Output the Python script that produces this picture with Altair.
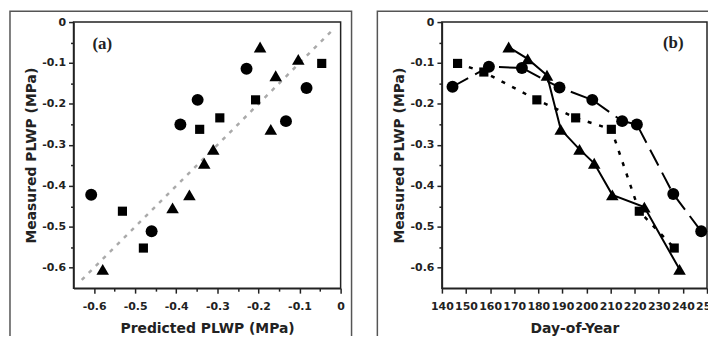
import altair as alt
import pandas as pd

# ---------------- Panel (a): predicted vs measured PLWP (MPa) ----------------
a_circle_pred = [-0.607, -0.46, -0.39, -0.348, -0.229, -0.083, -0.133]
a_circle_meas = [-0.422, -0.511, -0.25, -0.19, -0.114, -0.161, -0.242]
a_square_pred = [-0.046, -0.207, -0.294, -0.343, -0.531, -0.48]
a_square_meas = [-0.101, -0.19, -0.234, -0.262, -0.462, -0.552]
a_tri_pred = [-0.196, -0.103, -0.158, -0.17, -0.31, -0.332, -0.368, -0.409, -0.579]
a_tri_meas = [-0.061, -0.091, -0.131, -0.262, -0.311, -0.345, -0.422, -0.454, -0.604]
one_to_one = [-0.63, -0.02]

# ---------------- Panel (b): measured PLWP over the season ----------------
b_circle_day = [144.4, 159.5, 173.2, 188.8, 202.4, 214.8, 220.9, 236.0, 247.6]
b_circle_plwp = [-0.158, -0.109, -0.112, -0.16, -0.19, -0.242, -0.25, -0.42, -0.511]
b_square_day = [146.5, 157.4, 179.4, 195.5, 210.3, 221.9, 236.4]
b_square_plwp = [-0.101, -0.122, -0.19, -0.234, -0.262, -0.462, -0.552]
b_tri_day = [167.7, 175.6, 183.6, 189.3, 197.1, 203.2, 210.7, 224.0, 238.6]
b_tri_plwp = [-0.061, -0.09, -0.13, -0.262, -0.311, -0.345, -0.422, -0.452, -0.604]

plwp_ticks = [0, -0.05, -0.1, -0.15, -0.2, -0.25, -0.3, -0.35, -0.4, -0.45, -0.5, -0.55, -0.6]
day_ticks = [140, 150, 160, 170, 180, 190, 200, 210, 220, 230, 240, 250]

LBL_FONT = "DejaVu Sans"
TTL_FONT = "DejaVu Sans"
EVEN = "abs(round(datum.value * 20)) % 2 == 0"
PLWP_LABEL = f"{EVEN} ? (datum.value == 0 ? '0' : '-' + format(abs(datum.value), '.1f')) : ''"


def plwp_axis(title, title_pad):
    return alt.Axis(
        values=plwp_ticks, labelExpr=PLWP_LABEL, title=title,
        tickSize={"condition": {"test": EVEN, "value": 5}, "value": 3},
        labelOverlap=False, labelFlush=False, grid=False,
        labelPadding=3, titlePadding=title_pad,
    )


plwp_scale = alt.Scale(domain=[-0.65, 0], nice=False, zero=False)
day_scale = alt.Scale(domain=[140, 250], nice=False, zero=False)

W_A, W_B, H = 269, 267, 268


def frame(x0, x1):
    return alt.Chart(alt.Data(values=[{"f": 1}])).mark_rect(
        fillOpacity=0, stroke="#555555", strokeWidth=1.5
    ).encode(x=alt.value(x0), x2=alt.value(x1), y=alt.value(-11), y2=alt.value(321))


def panel_label(txt, x, y):
    return alt.Chart(alt.Data(values=[{"t": txt}])).mark_text(
        font="Liberation Serif", fontWeight="bold", fontSize=17, color="#222222",
        align="center", baseline="middle"
    ).encode(text="t:N", x=alt.value(x), y=alt.value(y))


# ---- panel a layers
df_a_c = pd.DataFrame({"pred": a_circle_pred, "meas": a_circle_meas})
df_a_s = pd.DataFrame({"pred": a_square_pred, "meas": a_square_meas})
df_a_t = pd.DataFrame({"pred": a_tri_pred, "meas": a_tri_meas})
df_diag = pd.DataFrame({"pred": one_to_one, "meas": one_to_one})

xa = alt.X("pred:Q", scale=plwp_scale, axis=alt.Axis(
    values=plwp_ticks, labelExpr=PLWP_LABEL, title="Predicted PLWP (MPa)",
    tickSize={"condition": {"test": EVEN, "value": 5}, "value": 3},
    labelOverlap=False, labelFlush=False, grid=False, labelPadding=7, titlePadding=11))
ya = alt.Y("meas:Q", scale=plwp_scale, axis=plwp_axis("Measured PLWP (MPa)", 3))

diag = alt.Chart(df_diag).mark_line(color="#aaaaaa", strokeWidth=2.5, strokeDash=[4, 6]).encode(x=xa, y=ya)
pa_c = alt.Chart(df_a_c).mark_point(shape="circle", filled=True, color="black", opacity=1, size=145).encode(x=xa, y=ya)
pa_s = alt.Chart(df_a_s).mark_point(shape="square", filled=True, color="black", opacity=1, size=85).encode(x=xa, y=ya)
pa_t = alt.Chart(df_a_t).mark_point(shape="triangle-up", filled=True, color="black", opacity=1, size=160).encode(x=xa, y=ya)

panel_a = alt.layer(
    frame(-64, 280), diag, pa_c, pa_s, pa_t, panel_label("(a)", 29, 22)
).properties(width=W_A, height=H)

# ---- panel b layers
df_b_c = pd.DataFrame({"day": b_circle_day, "plwp": b_circle_plwp})
df_b_s = pd.DataFrame({"day": b_square_day, "plwp": b_square_plwp})
df_b_t = pd.DataFrame({"day": b_tri_day, "plwp": b_tri_plwp})

xb = alt.X("day:Q", scale=day_scale, axis=alt.Axis(
    values=day_ticks, format="d", title="Day-of-Year", tickSize=5,
    labelOverlap=False, labelFlush=False, grid=False, labelPadding=7, titlePadding=11))
yb = alt.Y("plwp:Q", scale=plwp_scale, axis=plwp_axis("Measured PLWP (MPa)", 4))

lb_c = alt.Chart(df_b_c).mark_line(color="black", strokeWidth=2, strokeDash=[18, 8]).encode(x=xb, y=yb)
lb_s = alt.Chart(df_b_s).mark_line(color="black", strokeWidth=2.5, strokeDash=[4, 8]).encode(x=xb, y=yb)
lb_t = alt.Chart(df_b_t).mark_line(color="black", strokeWidth=2).encode(x=xb, y=yb)
pb_c = alt.Chart(df_b_c).mark_point(shape="circle", filled=True, color="black", opacity=1, size=145).encode(x=xb, y=yb)
pb_s = alt.Chart(df_b_s).mark_point(shape="square", filled=True, color="black", opacity=1, size=85).encode(x=xb, y=yb)
pb_t = alt.Chart(df_b_t).mark_point(shape="triangle-up", filled=True, color="black", opacity=1, size=160).encode(x=xb, y=yb)

panel_b = alt.layer(
    frame(-65, 272), lb_c, lb_s, lb_t, pb_c, pb_s, pb_t, panel_label("(b)", 233, 21)
).properties(width=W_B, height=H)

chart = alt.hconcat(panel_a, panel_b, spacing=22).properties(
    padding={"left": 0, "top": 0, "right": -12, "bottom": -8}, background="white"
).configure_view(
    stroke="#222222", strokeWidth=1.5
).configure_axis(
    labelFont=LBL_FONT, labelFontWeight="bold", labelFontSize=11, labelColor="#222222",
    titleFont=TTL_FONT, titleFontWeight="bold", titleFontSize=14, titleColor="#222222",
    domainColor="#222222", domainWidth=1.5, tickColor="#222222", tickWidth=1.5,
)

chart.save("out.html", embed_options={"renderer": "svg", "actions": False})
